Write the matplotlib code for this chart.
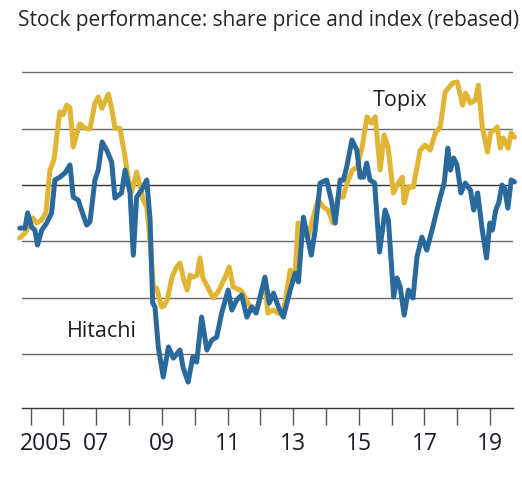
import matplotlib
matplotlib.use('Agg')
import matplotlib.pyplot as plt
import matplotlib.transforms as mtransforms

# Rebased values (decimal year, index level)
topix_t = [2004.67, 2004.83, 2005.07, 2005.18, 2005.34, 2005.47, 2005.59, 2005.71, 2005.89, 2005.99,
           2006.10, 2006.20, 2006.30, 2006.40, 2006.50, 2006.66, 2006.81, 2006.96, 2007.06, 2007.17,
           2007.37, 2007.48, 2007.57, 2007.72, 2007.87, 2007.98, 2008.08, 2008.23, 2008.33, 2008.43,
           2008.54, 2008.62, 2008.74, 2008.84, 2008.99, 2009.06, 2009.16, 2009.31, 2009.43, 2009.55,
           2009.67, 2009.77, 2009.86, 2009.95, 2010.07, 2010.16, 2010.25, 2010.41, 2010.56, 2010.71,
           2010.93, 2011.05, 2011.17, 2011.38, 2011.47, 2011.62, 2011.78, 2011.90, 2012.05, 2012.14,
           2012.23, 2012.39, 2012.54, 2012.69, 2012.91, 2013.06, 2013.15, 2013.30, 2013.45, 2013.61,
           2013.76, 2013.91, 2014.06, 2014.22, 2014.37, 2014.52, 2014.64, 2014.80, 2014.95, 2015.10,
           2015.25, 2015.38, 2015.50, 2015.65, 2015.77, 2015.89, 2016.05, 2016.20, 2016.32, 2016.38,
           2016.50, 2016.66, 2016.87, 2017.02, 2017.17, 2017.33, 2017.48, 2017.63, 2017.85, 2018.00,
           2018.16, 2018.25, 2018.40, 2018.55, 2018.64, 2018.76, 2018.92, 2019.01, 2019.22, 2019.31,
           2019.40, 2019.55, 2019.64, 2019.74]
topix_v = [101.2, 102.9, 108.3, 106.5, 107.6, 110.4, 125.3, 128.9, 146.0, 145.0,
           148.4, 147.5, 133.5, 137.8, 141.7, 140.2, 139.9, 149.1, 151.3, 147.3,
           152.3, 146.6, 140.2, 140.2, 130.6, 121.8, 117.5, 124.6, 120.0, 114.7,
           112.2, 102.9, 83.8, 83.4, 76.7, 77.0, 79.2, 87.3, 90.5, 92.3,
           86.3, 82.7, 88.0, 87.3, 88.0, 94.1, 87.0, 83.4, 79.9, 82.0,
           87.3, 90.9, 83.8, 82.7, 81.6, 78.1, 75.6, 75.6, 82.7, 85.2,
           74.5, 75.6, 74.5, 73.8, 89.8, 88.7, 106.5, 103.3, 101.5, 108.6,
           114.7, 112.2, 111.1, 106.5, 115.7, 115.7, 120.7, 125.3, 126.4, 133.5,
           144.2, 142.0, 144.2, 125.3, 137.8, 133.5, 117.2, 120.7, 122.8, 113.6,
           119.3, 119.3, 132.4, 134.2, 132.4, 138.5, 140.6, 153.0, 156.2, 156.6,
           148.4, 152.7, 149.1, 150.2, 155.5, 140.6, 131.7, 138.5, 140.6, 133.1,
           136.7, 133.1, 138.5, 137.0]

hitachi_t = [2004.67, 2004.83, 2004.91, 2005.03, 2005.13, 2005.21, 2005.34, 2005.49, 2005.64, 2005.74,
             2005.89, 2006.05, 2006.20, 2006.30, 2006.45, 2006.55, 2006.71, 2006.81, 2006.96, 2007.06,
             2007.18, 2007.32, 2007.47, 2007.57, 2007.77, 2007.88, 2008.03, 2008.13, 2008.23, 2008.38,
             2008.54, 2008.64, 2008.72, 2008.79, 2008.89, 2009.04, 2009.20, 2009.35, 2009.55, 2009.65,
             2009.80, 2009.94, 2010.06, 2010.21, 2010.37, 2010.52, 2010.67, 2010.82, 2011.02, 2011.13,
             2011.28, 2011.43, 2011.59, 2011.74, 2011.87, 2011.99, 2012.14, 2012.27, 2012.40, 2012.55,
             2012.70, 2012.91, 2013.06, 2013.16, 2013.31, 2013.41, 2013.55, 2013.67, 2013.82, 2014.02,
             2014.18, 2014.28, 2014.43, 2014.53, 2014.63, 2014.79, 2014.94, 2015.04, 2015.14, 2015.24,
             2015.34, 2015.48, 2015.63, 2015.80, 2015.90, 2016.06, 2016.16, 2016.26, 2016.38, 2016.51,
             2016.65, 2016.77, 2016.92, 2017.07, 2017.23, 2017.38, 2017.48, 2017.60, 2017.71, 2017.79,
             2017.89, 2017.99, 2018.11, 2018.24, 2018.40, 2018.50, 2018.62, 2018.76, 2018.89, 2018.99,
             2019.07, 2019.17, 2019.26, 2019.36, 2019.44, 2019.54, 2019.64, 2019.74]
hitachi_v = [104.7, 104.7, 110.1, 105.1, 104.0, 98.7, 104.0, 106.5, 110.1, 121.8,
             122.8, 124.3, 127.1, 115.7, 114.7, 111.1, 105.8, 106.9, 121.8, 125.3,
             135.3, 132.4, 128.2, 115.4, 117.2, 125.3, 117.2, 95.1, 115.7, 118.2,
             121.8, 107.6, 78.1, 76.7, 62.5, 51.8, 62.5, 58.5, 61.4, 55.0,
             50.0, 58.9, 57.1, 73.1, 61.4, 64.9, 66.0, 74.5, 82.7, 75.6,
             79.2, 80.9, 73.1, 76.7, 74.5, 80.2, 87.3, 78.1, 81.6, 76.7,
             73.1, 82.7, 88.7, 85.6, 108.6, 102.9, 95.1, 104.0, 120.7, 121.8,
             113.6, 106.5, 121.8, 121.8, 126.4, 136.0, 132.4, 122.8, 122.8, 127.8,
             121.8, 120.7, 96.2, 111.1, 107.6, 80.2, 87.0, 83.8, 73.8, 82.7,
             79.9, 94.4, 101.5, 96.9, 104.0, 111.1, 115.7, 120.7, 133.1, 125.3,
             129.6, 127.1, 117.2, 120.7, 118.2, 111.1, 117.2, 104.0, 94.1, 106.5,
             104.0, 111.1, 113.6, 120.0, 118.9, 111.8, 121.8, 121.1]

years = list(range(2005, 2020))
year_labels = ['2005', '', '07', '', '09', '', '11', '', '13', '', '15', '', '17', '', '19']
grid_levels = [60, 80, 100, 120, 140, 160]

plt.rcParams['font.family'] = ['Open Sans', 'DejaVu Sans']

fig = plt.figure(figsize=(5.22, 4.8), dpi=100)
ax = fig.add_axes([0.0416, 0.15, 0.9414, 0.7108])

for g in grid_levels:
    ax.axhline(g, color='#333333' if g == 120 else '#6b6b6b', lw=1.0, zorder=1)

ax.plot(topix_t, topix_v, color='#e0b533', lw=3.6, solid_joinstyle='round',
        solid_capstyle='round', zorder=3, clip_on=False)
ax.plot(hitachi_t, hitachi_v, color='#29699b', lw=3.6, solid_joinstyle='round',
        solid_capstyle='round', zorder=4, clip_on=False)

ax.text(2016.26, 150.2, 'Topix', fontsize=15.5, color='#1f1f1f', ha='center', va='center')
ax.text(2007.17, 68.1, 'Hitachi', fontsize=15.5, color='#1f1f1f', ha='center', va='center')

ax.set_xlim(2004.73, 2019.70)
ax.set_ylim(40.8, 162)
ax.set_xticks(years)
ax.set_xticklabels(year_labels)
ax.set_yticks([])
ax.tick_params(axis='x', length=12, width=1, color='#555555', pad=5,
               labelsize=16.5, labelcolor='#1a1a2a')

for s in ['left', 'right', 'top']:
    ax.spines[s].set_visible(False)
ax.spines['bottom'].set_color('#333333')
ax.spines['bottom'].set_linewidth(1.0)

lab = ax.get_xticklabels()[0]
lab.set_transform(lab.get_transform() + mtransforms.ScaledTranslation(0.16, 0, fig.dpi_scale_trans))

fig.text(0.0345, 0.958, 'Stock performance: share price and index (rebased)',
         fontsize=15, color='#262626', ha='left', va='center')

fig.savefig('out.png', dpi=100)
